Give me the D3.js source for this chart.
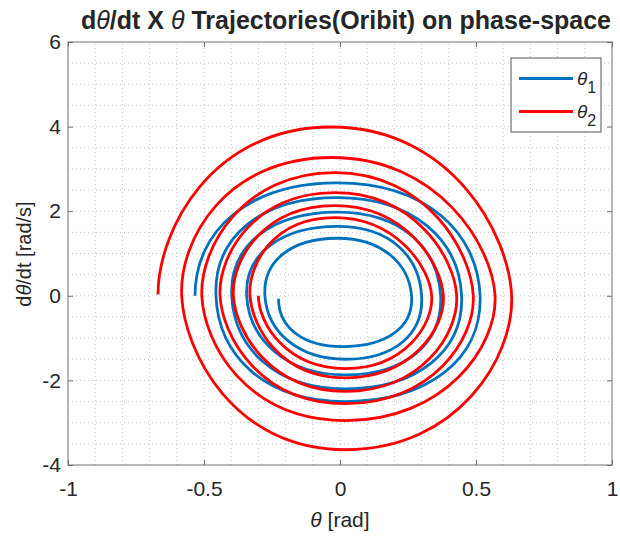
<!DOCTYPE html>
<html>
<head>
<meta charset="utf-8">
<script src="https://cdnjs.cloudflare.com/ajax/libs/d3/7.8.5/d3.min.js"></script>
<style>
    body { margin: 0; background: #fff; }
    text { font-family: "Liberation Sans", Arial, Helvetica, sans-serif; fill: #262626; }
</style>
</head>
<body>
<div id="chart"></div>
<script>
// orbit points read at each quarter turn: left, top, right, bottom, left ...
const theta1 = [-0.533, -0.01, 0.515, 0.02, -0.456, -0.01, 0.447, 0.02, -0.398, -0.01, 0.37, 0.02, -0.343, -0.01, 0.30, 0.02, -0.276, -0.01, 0.263, 0.02, -0.226];
const dtheta1 = [0, 2.67, 0, -2.5, 0, 2.32, 0, -2.2, 0, 1.98, 0, -1.87, 0, 1.64, 0, -1.5, 0, 1.36, 0, -1.2, -0.07];

const theta2 = [-0.669, -0.03, 0.631, 0.02, -0.582, -0.03, 0.570, 0.02, -0.508, -0.02, 0.49, 0.02, -0.441, -0.02, 0.429, 0.02, -0.392, -0.02, 0.380, 0.02, -0.331, -0.02, 0.337, 0.02, -0.30];
const dtheta2 = [0.03, 3.99, 0, -3.64, 0, 3.27, 0, -2.95, 0, 2.91, 0, -2.55, 0, 2.44, 0, -2.26, 0, 2.13, 0, -1.94, 0, 1.85, 0, -1.72, 0];

const xTicks = [-1, -0.5, 0, 0.5, 1];
const yTicks = [-4, -2, 0, 2, 4, 6];
const seriesColors = ["#0072BD", "#FF0000"];
const seriesSubs = ["1", "2"];
// tangent scale at turning points (side) and at speed peaks (top/bottom)
const seriesShape = [{ side: 0.29, peak: 0.31 }, { side: 0.19, peak: 0.34 }];

const width = 620, height = 536;
const margin = { top: 42, right: 8, bottom: 71, left: 68 };
const innerW = width - margin.left - margin.right;
const innerH = height - margin.top - margin.bottom;

const svg = d3.select("#chart")
    .append("svg")
    .attr("width", width)
    .attr("height", height);

const x = d3.scaleLinear().domain([-1, 1]).range([margin.left, margin.left + innerW]);
const y = d3.scaleLinear().domain([-4, 6]).range([margin.top + innerH, margin.top]);

// grid (major + minor, all dotted like the matlab figure)
const grid = svg.append("g");
const xGrid = d3.range(-9, 10).map(i => i / 10);
const yGrid = d3.range(-7, 12).map(i => i / 2);
grid.selectAll(".gx").data(xGrid).enter().append("line")
    .attr("x1", d => x(d)).attr("x2", d => x(d))
    .attr("y1", y(-4)).attr("y2", y(6))
    .attr("stroke", "#c4c4c4").attr("stroke-width", 1)
    .attr("stroke-dasharray", "1,3");
grid.selectAll(".gy").data(yGrid).enter().append("line")
    .attr("x1", x(-1)).attr("x2", x(1))
    .attr("y1", d => y(d)).attr("y2", d => y(d))
    .attr("stroke", "#c4c4c4").attr("stroke-width", 1)
    .attr("stroke-dasharray", "1,3");

// cardinal-like spline through the quarter-turn points; the open ends get a
// mirrored neighbour so the orbit leaves / reaches the theta axis vertically
const y0 = y(0);
function orbitCurve(shape) {
    return function (context) {
        let pts = [];
        const kAt = i => (i % 2 === 0 ? shape.side : shape.peak);
        return {
            areaStart() {}, areaEnd() {},
            lineStart() { pts = []; },
            point(px, py) { pts.push([+px, +py]); },
            lineEnd() {
                const n = pts.length;
                const at = i => {
                    if (i < 0) return [pts[1][0], 2 * y0 - pts[1][1]];
                    if (i >= n) return [pts[n - 2][0], 2 * y0 - pts[n - 2][1]];
                    return pts[i];
                };
                context.moveTo(pts[0][0], pts[0][1]);
                for (let i = 0; i < n - 1; i++) {
                    const pa = at(i - 1), p1 = at(i), p2 = at(i + 1), pb = at(i + 2);
                    const k1 = kAt(i), k2 = kAt(i + 1);
                    context.bezierCurveTo(
                        p1[0] + k1 * (p2[0] - pa[0]), p1[1] + k1 * (p2[1] - pa[1]),
                        p2[0] - k2 * (pb[0] - p1[0]), p2[1] - k2 * (pb[1] - p1[1]),
                        p2[0], p2[1]);
                }
            }
        };
    };
}

svg.append("clipPath").attr("id", "clip")
    .append("rect")
    .attr("x", margin.left).attr("y", margin.top)
    .attr("width", innerW).attr("height", innerH);

const orbits = [d3.zip(theta1, dtheta1), d3.zip(theta2, dtheta2)];
svg.append("g").attr("clip-path", "url(#clip)")
    .selectAll(".orbit")
    .data(orbits)
    .enter().append("path")
    .attr("class", "orbit")
    .attr("d", (d, i) => d3.line()
        .x(p => x(p[0]))
        .y(p => y(p[1]))
        .curve(orbitCurve(seriesShape[i]))(d))
    .attr("fill", "none")
    .attr("stroke", (d, i) => seriesColors[i])
    .attr("stroke-width", 2.8);

// axes
const fmt = d => String(d);
const axisColor = "#707070";

const axBottom = svg.append("g")
    .attr("transform", `translate(0,${y(-4)})`)
    .call(d3.axisBottom(x).tickValues(xTicks).tickFormat(fmt).tickSizeInner(-5).tickSizeOuter(0).tickPadding(16));
const axLeft = svg.append("g")
    .attr("transform", `translate(${x(-1)},0)`)
    .call(d3.axisLeft(y).tickValues(yTicks).tickFormat(fmt).tickSizeInner(-5).tickSizeOuter(0).tickPadding(7));
const axTop = svg.append("g")
    .attr("transform", `translate(0,${y(6)})`)
    .call(d3.axisTop(x).tickValues(xTicks).tickFormat("").tickSizeInner(-5).tickSizeOuter(0));
const axRight = svg.append("g")
    .attr("transform", `translate(${x(1)},0)`)
    .call(d3.axisRight(y).tickValues(yTicks).tickFormat("").tickSizeInner(-5).tickSizeOuter(0));

[axBottom, axLeft, axTop, axRight].forEach(g => {
    g.select(".domain").remove();
    g.selectAll("line").attr("stroke", axisColor);
    g.selectAll("text")
        .style("font-size", "21px")
        .style("font-family", "'Liberation Sans', Arial, sans-serif")
        .attr("fill", "#262626");
});

svg.append("rect")
    .attr("x", x(-1)).attr("y", y(6))
    .attr("width", innerW).attr("height", innerH)
    .attr("fill", "none")
    .attr("stroke", axisColor).attr("stroke-width", 1);

// title
const title = svg.append("text")
    .attr("x", 346).attr("y", 29)
    .attr("text-anchor", "middle")
    .style("font-size", "25px")
    .style("font-weight", "bold");
title.append("tspan").text("d");
title.append("tspan").style("font-style", "italic").style("font-weight", "normal").text("θ");
title.append("tspan").text("/dt X ");
title.append("tspan").style("font-style", "italic").style("font-weight", "normal").text("θ");
title.append("tspan").text(" Trajectories(Oribit) on phase-space");

// axis labels
const xLabel = svg.append("text")
    .attr("x", 340).attr("y", 527)
    .attr("text-anchor", "middle")
    .style("font-size", "21px");
xLabel.append("tspan").style("font-style", "italic").text("θ");
xLabel.append("tspan").text(" [rad]");

const yLabel = svg.append("text")
    .attr("transform", "translate(31,254) rotate(-90)")
    .attr("text-anchor", "middle")
    .style("font-size", "20px");
yLabel.append("tspan").text("d");
yLabel.append("tspan").style("font-style", "italic").text("θ");
yLabel.append("tspan").text("/dt [rad/s]");

// legend
const legend = svg.append("g");
legend.append("rect")
    .attr("x", 511).attr("y", 58)
    .attr("width", 90).attr("height", 74)
    .attr("fill", "#fff")
    .attr("stroke", "#555").attr("stroke-width", 1);

seriesColors.forEach((c, i) => {
    const ly = 78.5 + i * 33;
    legend.append("line")
        .attr("x1", 519).attr("x2", 573)
        .attr("y1", ly).attr("y2", ly)
        .attr("stroke", c).attr("stroke-width", 2.8);
    const t = legend.append("text")
        .attr("x", 577).attr("y", ly + 6)
        .style("font-size", "19px");
    t.append("tspan").style("font-style", "italic").text("θ");
    t.append("tspan").attr("dy", 8).style("font-size", "16px").text(seriesSubs[i]);
});
</script>
</body>
</html>
